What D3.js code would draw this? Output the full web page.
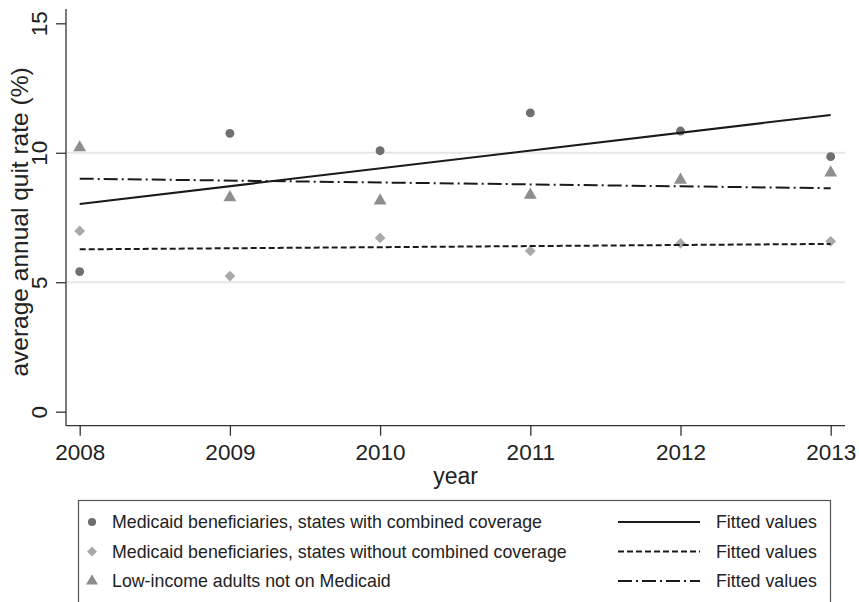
<!DOCTYPE html>
<html>
<head>
<meta charset="utf-8">
<script src="https://cdn.jsdelivr.net/npm/d3@7/dist/d3.min.js"></script>
<style>
  html, body { margin: 0; padding: 0; background: #fff; }
  svg { display: block; font-family: "Liberation Sans", Arial, Helvetica, sans-serif; }
</style>
</head>
<body>
<svg id="chart" width="859" height="602"></svg>
<script>
// Survey years
const years = [2008, 2009, 2010, 2011, 2012, 2013];

// Average annual quit rate (%) by group
const combinedCoverage = [5.41, 10.75, 10.08, 11.54, 10.84, 9.85];
const withoutCombined  = [6.98, 5.24, 6.71, 6.21, 6.50, 6.58];
const lowIncomeNonMedicaid = [10.20, 8.27, 8.15, 8.37, 8.95, 9.23];

// Linear fitted values at the first and last year
const fitYears = [2008, 2013];
const fitCombined  = [8.02, 11.46];
const fitWithout   = [6.27, 6.48];
const fitLowIncome = [9.00, 8.63];

const yTicks = [0, 5, 10, 15];
const gridValues = [5, 10];

const legendLabels = [
  "Medicaid beneficiaries, states with combined coverage",
  "Medicaid beneficiaries, states without combined coverage",
  "Low-income adults not on Medicaid"
];
const fitLabel = "Fitted values";

const svg = d3.select("#chart");

const plot = { left: 66, right: 845, top: 9, bottom: 425.7 };

const x = d3.scaleLinear().domain([2008, 2013]).range([79.7, 830.7]);
const y = d3.scaleLinear().domain([0, 15]).range([411.7, 23.3]);

// Grid lines
svg.append("g").selectAll("line").data(gridValues).join("line")
  .attr("x1", plot.left).attr("x2", plot.right)
  .attr("y1", d => y(d)).attr("y2", d => y(d))
  .attr("stroke", "#e6e6e6").attr("stroke-width", 2);

// Y axis
const yAxis = svg.append("g")
  .attr("transform", `translate(${plot.left},0)`)
  .call(d3.axisLeft(y).tickValues(yTicks).tickSize(10).tickPadding(0).tickFormat(d3.format("d")));
yAxis.select(".domain").attr("d", `M0,${plot.top}V${plot.bottom}`)
  .attr("stroke", "#333").attr("stroke-width", 1.3);
yAxis.selectAll(".tick line").attr("stroke", "#333").attr("stroke-width", 1.3);
yAxis.selectAll(".tick text")
  .attr("x", null).attr("dy", null)
  .attr("transform", "translate(-19,0) rotate(-90)")
  .attr("text-anchor", "middle")
  .attr("font-size", 22.5).attr("fill", "#222");

// X axis
const xAxis = svg.append("g")
  .attr("transform", `translate(0,${plot.bottom})`)
  .call(d3.axisBottom(x).tickValues(years).tickSize(10).tickPadding(0).tickFormat(d3.format("d")));
xAxis.select(".domain").attr("d", `M${plot.left},0H${plot.right}`)
  .attr("stroke", "#333").attr("stroke-width", 1.3);
xAxis.selectAll(".tick line").attr("stroke", "#333").attr("stroke-width", 1.3);
xAxis.selectAll(".tick text")
  .attr("y", 34.3).attr("dy", null)
  .attr("font-size", 22.5).attr("fill", "#222");

// Axis titles
svg.append("text")
  .attr("transform", `translate(28,222) rotate(-90)`)
  .attr("text-anchor", "middle").attr("font-size", 24.5).attr("fill", "#222")
  .text("average annual quit rate (%)");
svg.append("text")
  .attr("x", (plot.left + plot.right) / 2).attr("y", 484)
  .attr("text-anchor", "middle").attr("font-size", 23).attr("fill", "#222")
  .text("year");

// Series definitions
const series = [
  { values: combinedCoverage, fit: fitCombined, symbol: d3.symbolCircle, size: 62, color: "#6f6f71", dash: null },
  { values: withoutCombined, fit: fitWithout, symbol: d3.symbolDiamond2, size: 74, color: "#a9a9aa", dash: "6,3" },
  { values: lowIncomeNonMedicaid, fit: fitLowIncome, symbol: d3.symbolTriangle, size: 72, color: "#8e8e90", dash: "14,4,2,4" }
];

const line = d3.line().x(d => x(d[0])).y(d => y(d[1]));

// Markers
series.forEach(s => {
  svg.append("g").selectAll("path").data(years.map((yr, i) => [yr, s.values[i]])).join("path")
    .attr("transform", d => `translate(${x(d[0])},${y(d[1])})`)
    .attr("d", d3.symbol().type(s.symbol).size(s.size))
    .attr("fill", s.color);
});

// Fitted lines
series.forEach(s => {
  svg.append("path")
    .datum(fitYears.map((yr, i) => [yr, s.fit[i]]))
    .attr("d", line)
    .attr("fill", "none").attr("stroke", "#1a1a1a").attr("stroke-width", 2)
    .attr("stroke-dasharray", s.dash);
});

// Legend
const legend = svg.append("g");
legend.append("rect")
  .attr("x", 78.5).attr("y", 500.5).attr("width", 752).attr("height", 110)
  .attr("fill", "#fff").attr("stroke", "#555").attr("stroke-width", 1.2);

const rowY = [522, 551.5, 581];
series.forEach((s, i) => {
  legend.append("path")
    .attr("transform", `translate(92,${rowY[i]})`)
    .attr("d", d3.symbol().type(s.symbol).size(s.size * 0.85))
    .attr("fill", s.color);
  legend.append("text")
    .attr("x", 112).attr("y", rowY[i] + 6.3)
    .attr("font-size", 17.8).attr("fill", "#222")
    .text(legendLabels[i]);
  legend.append("line")
    .attr("x1", 618).attr("x2", 700).attr("y1", rowY[i]).attr("y2", rowY[i])
    .attr("stroke", "#1a1a1a").attr("stroke-width", 2)
    .attr("stroke-dasharray", s.dash);
  legend.append("text")
    .attr("x", 716).attr("y", rowY[i] + 6.3)
    .attr("font-size", 17.8).attr("fill", "#222")
    .text(fitLabel);
});
</script>
</body>
</html>
